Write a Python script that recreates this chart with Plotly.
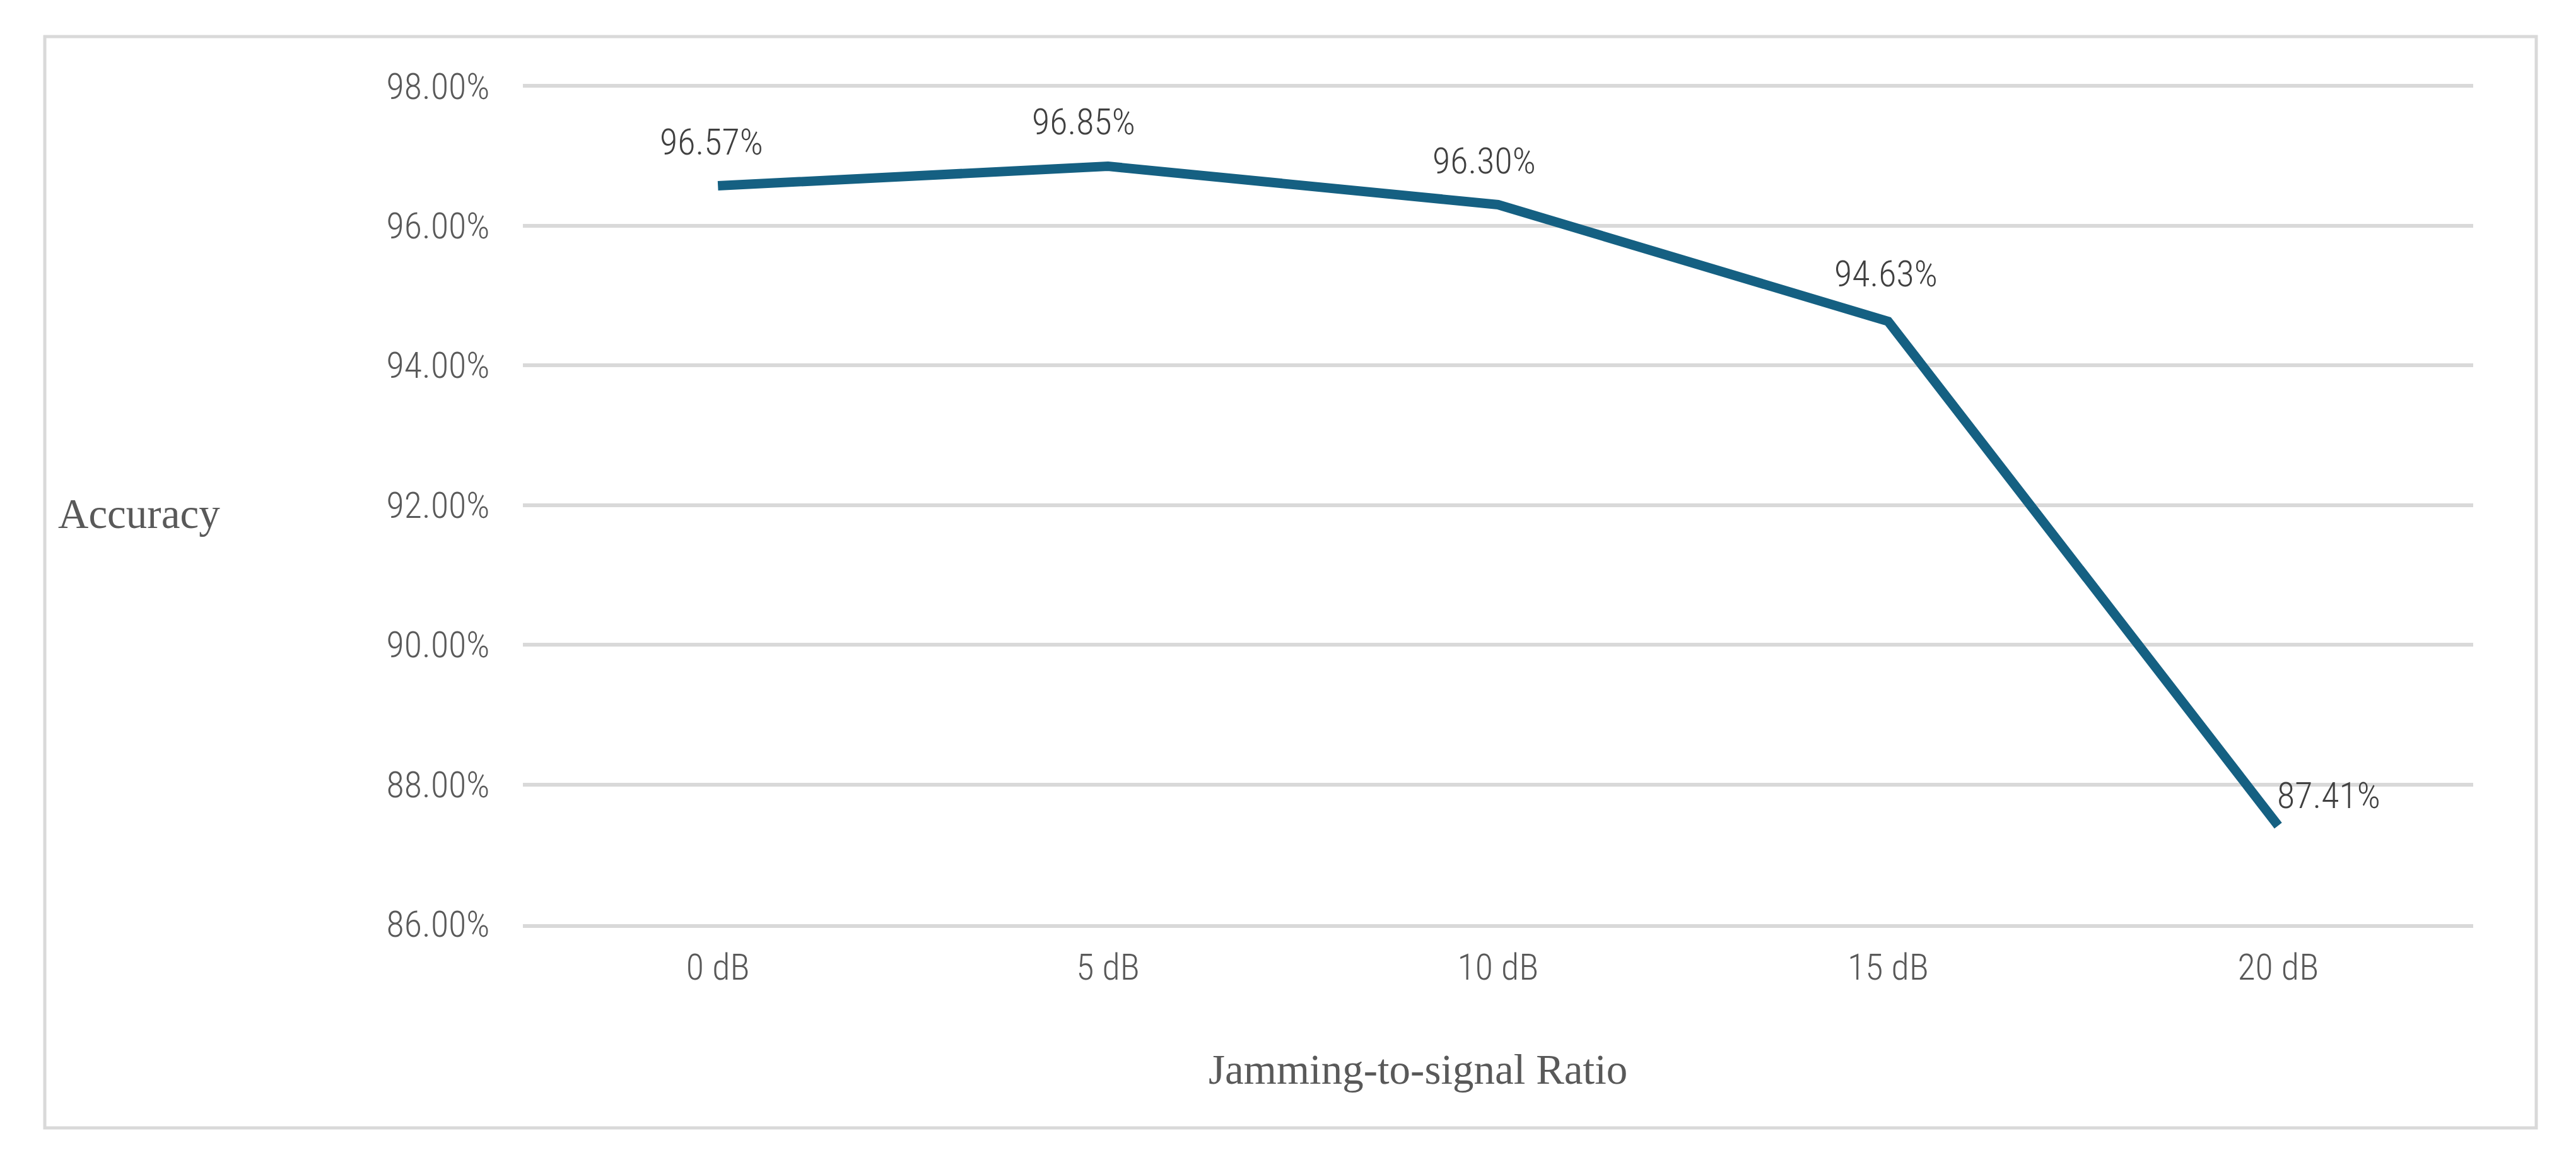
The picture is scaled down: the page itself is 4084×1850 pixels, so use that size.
import plotly.graph_objects as go

# ---- data ----
categories = ["0 dB", "5 dB", "10 dB", "15 dB", "20 dB"]
accuracy = [96.57, 96.85, 96.30, 94.63, 87.41]
y_ticks = [86, 88, 90, 92, 94, 96, 98]
y_tick_labels = ["86.00%", "88.00%", "90.00%", "92.00%", "94.00%", "96.00%", "98.00%"]
data_labels = ["96.57%", "96.85%", "96.30%", "94.63%", "87.41%"]

# label placement (style only)
label_xshift = [-10, -39, -22, -3, -4]
label_yshift = [70, 71, 69, 75, 48]
label_xanchor = ["center", "center", "center", "center", "left"]

W, H = 4084, 1850
L, R, T, B = 829, 3921, 134, 1465

NARROW = "Roboto Condensed, Liberation Sans Narrow, Arial Narrow, sans-serif"
SERIF = "Liberation Serif, Times New Roman, serif"
FS = 58

fig = go.Figure()
fig.add_trace(go.Scatter(
    x=categories, y=accuracy, mode="lines",
    line=dict(color="#156082", width=15),
    hoverinfo="skip", showlegend=False,
))

for c, v, t, dx, dy, xa in zip(categories, accuracy, data_labels, label_xshift, label_yshift, label_xanchor):
    fig.add_annotation(x=c, y=v, text=t, showarrow=False, xanchor=xa, yanchor="middle",
                       xshift=dx, yshift=dy, font=dict(family=NARROW, size=FS, color="#404040", weight=300))

def px_x(p):
    return (p - L) / (R - L)

def px_y(p):
    return (B - p) / (B - T)

# axis titles
fig.add_annotation(xref="paper", yref="paper", x=px_x(90), y=px_y(814), text="Accuracy",
                   showarrow=False, xanchor="left", yanchor="middle",
                   font=dict(family=SERIF, size=67, color="#595959"))
fig.add_annotation(xref="paper", yref="paper", x=px_x(2248), y=px_y(1695), text="Jamming-to-signal Ratio",
                   showarrow=False, xanchor="center", yanchor="middle",
                   font=dict(family=SERIF, size=67, color="#595959"))

# outer chart border
fig.add_shape(type="rect", xref="paper", yref="paper",
              x0=px_x(71), x1=px_x(4021), y0=px_y(1788), y1=px_y(58),
              line=dict(color="#d9d9d9", width=5), fillcolor="rgba(0,0,0,0)", layer="below")

fig.update_layout(
    width=W, height=H,
    margin=dict(l=L, r=W - R, t=T, b=H - B, pad=0),
    paper_bgcolor="white", plot_bgcolor="white",
    xaxis=dict(
        type="category", range=[-0.5, 4.5], showgrid=False, zeroline=False,
        showline=True, linecolor="#d9d9d9", linewidth=6,
        ticks="outside", ticklen=12, tickcolor="rgba(0,0,0,0)",
        tickfont=dict(family=NARROW, size=FS, color="#595959", weight=300),
    ),
    yaxis=dict(
        range=[86, 98.02], tickvals=y_ticks, ticktext=y_tick_labels,
        showgrid=True, gridcolor="#d9d9d9", gridwidth=6, zeroline=False, showline=False,
        ticks="outside", ticklen=40, tickcolor="rgba(0,0,0,0)",
        tickfont=dict(family=NARROW, size=FS, color="#595959", weight=300),
    ),
)

fig.write_html("out.html", config={"displayModeBar": False},
               post_script="document.body.style.margin='0';document.body.style.overflow='hidden';")
